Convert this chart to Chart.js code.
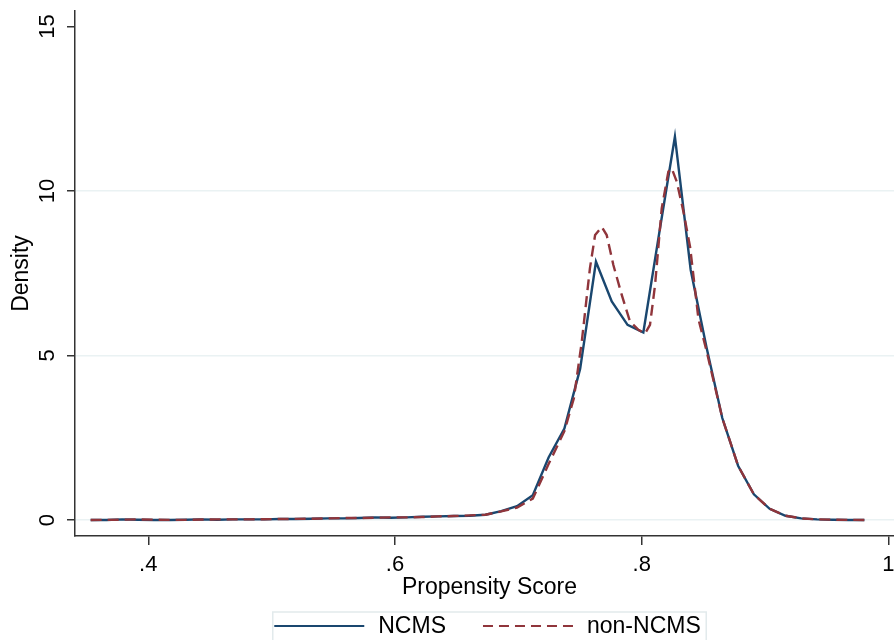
<!DOCTYPE html>
<html>
<head>
<meta charset="utf-8">
<script src="https://cdn.jsdelivr.net/npm/chart.js@4/dist/chart.umd.min.js"></script>
<style>
  html, body { margin: 0; padding: 0; background: #fff; overflow: hidden; }
  #wrap { width: 904px; height: 640px; }
</style>
</head>
<body>
<div id="wrap"><canvas id="chart" width="904" height="640"></canvas></div>
<script>
// kdensity estimates
const ncmsX = [
  0.3533, 0.3661, 0.3789, 0.3917, 0.4045, 0.4173, 0.4301, 0.4429, 0.4557, 0.4685,
  0.4813, 0.4941, 0.5069, 0.5197, 0.5325, 0.5453, 0.5581, 0.5709, 0.5837, 0.5965,
  0.6093, 0.6221, 0.6349, 0.6477, 0.6605, 0.6733, 0.6861, 0.6989, 0.7117, 0.7245,
  0.7373, 0.7501, 0.7629, 0.7757, 0.7885, 0.8013, 0.8141, 0.8269, 0.8397, 0.8525,
  0.8653, 0.8781, 0.8909, 0.9037, 0.9165, 0.9293, 0.9421, 0.9549, 0.9677, 0.9805
];
const ncmsY = [
  0.00, 0.00, 0.02, 0.01, 0.00, 0.00, 0.01, 0.02, 0.01, 0.02,
  0.02, 0.02, 0.03, 0.03, 0.04, 0.05, 0.05, 0.06, 0.08, 0.07,
  0.08, 0.10, 0.11, 0.12, 0.13, 0.16, 0.27, 0.42, 0.75, 1.90,
  2.78, 4.60, 7.85, 6.64, 5.93, 5.70, 8.70, 11.65, 7.60, 5.25,
  3.10, 1.65, 0.78, 0.34, 0.13, 0.05, 0.02, 0.01, 0.00, 0.00
];

const nonX = [
  0.3533, 0.3661, 0.3789, 0.3917, 0.4045, 0.4173, 0.4301, 0.4429, 0.4557, 0.4685,
  0.4813, 0.4941, 0.5069, 0.5197, 0.5325, 0.5453, 0.5581, 0.5709, 0.5837, 0.5965,
  0.6093, 0.6221, 0.6349, 0.6477, 0.6605, 0.6733, 0.6861, 0.6989, 0.7117, 0.7245,
  0.7373, 0.7450, 0.7514, 0.7580, 0.7622, 0.7676, 0.7716, 0.7770, 0.7838, 0.7905,
  0.7973, 0.8027, 0.8067, 0.8108, 0.8162, 0.8216, 0.8243, 0.8284, 0.8338, 0.8392,
  0.8460, 0.8525, 0.8653, 0.8781, 0.8909, 0.9037, 0.9165, 0.9293, 0.9421, 0.9549,
  0.9677, 0.9805
];
const nonY = [
  0.00, 0.005, 0.01, 0.02, 0.01, 0.005, 0.005, 0.015, 0.02, 0.02,
  0.02, 0.025, 0.03, 0.035, 0.04, 0.05, 0.06, 0.06, 0.07, 0.08,
  0.08, 0.09, 0.11, 0.12, 0.14, 0.16, 0.26, 0.38, 0.65, 1.70,
  2.70, 3.70, 5.42, 7.65, 8.66, 8.91, 8.66, 7.75, 6.84, 6.03,
  5.78, 5.67, 5.93, 7.14, 9.47, 10.59, 10.69, 10.28, 9.37, 8.30,
  6.10, 5.15, 3.10, 1.65, 0.78, 0.34, 0.13, 0.05, 0.02, 0.01,
  0.005, 0.002
];

const seriesNames = ["NCMS", "non-NCMS"];
const xTicks = [0.4, 0.6, 0.8, 1];
const xTickLabels = [".4", ".6", ".8", "1"];
const yTicks = [0, 5, 10, 15];
const yTickLabels = ["0", "5", "10", "15"];

const NAVY = "#1a476f";
const MAROON = "#90353b";
const GRID = "#eaf2f3";
const AXIS = "#333333";
const FONT = "'Liberation Sans', Arial, sans-serif";

// y labels are drawn upright-rotated like Stata, plus the boxed legend
const extras = {
  id: "extras",
  afterDraw(chart) {
    const { ctx, chartArea } = chart;
    const ys = chart.scales.y;
    ctx.save();
    ctx.fillStyle = "#000";
    ctx.font = "22px " + FONT;
    ctx.textAlign = "center";
    ctx.textBaseline = "alphabetic";
    yTicks.forEach((v, i) => {
      ctx.save();
      ctx.translate(54, ys.getPixelForValue(v));
      ctx.rotate(-Math.PI / 2);
      ctx.fillText(yTickLabels[i], 0, 0);
      ctx.restore();
    });

    // legend
    ctx.font = "23px " + FONT;
    const w0 = ctx.measureText(seriesNames[0]).width;
    const w1 = ctx.measureText(seriesNames[1]).width;
    const sample = 90, gapText = 14, gapItem = 37, pad = 1.5;
    const total = pad + sample + gapText + w0 + gapItem + sample + gapText + w1 + pad + 4;
    const cx = (chartArea.left + chartArea.right) / 2;
    let x = cx - total / 2;
    const top = 612, mid = 626;
    ctx.fillStyle = "#fff";
    ctx.fillRect(x, top, total, 40);
    ctx.strokeStyle = "#e2eaec";
    ctx.lineWidth = 1.5;
    ctx.strokeRect(x, top, total, 40);
    x += pad;

    ctx.lineWidth = 2.2;
    ctx.strokeStyle = NAVY;
    ctx.setLineDash([]);
    ctx.beginPath(); ctx.moveTo(x, mid); ctx.lineTo(x + sample, mid); ctx.stroke();
    x += sample + gapText;
    ctx.fillStyle = "#000";
    ctx.textAlign = "left";
    ctx.textBaseline = "middle";
    ctx.fillText(seriesNames[0], x, mid + 1);
    x += w0 + gapItem;

    ctx.strokeStyle = MAROON;
    ctx.setLineDash([10, 6]);
    ctx.beginPath(); ctx.moveTo(x, mid); ctx.lineTo(x + sample, mid); ctx.stroke();
    ctx.setLineDash([]);
    x += sample + gapText;
    ctx.fillText(seriesNames[1], x, mid + 1);
    ctx.restore();
  }
};

const ctx = document.getElementById("chart");
new Chart(ctx, {
  type: "line",
  data: {
    datasets: [
      {
        label: seriesNames[0],
        data: ncmsX.map((x, i) => ({ x: x, y: ncmsY[i] })),
        borderColor: NAVY,
        borderWidth: 2.4,
        pointRadius: 0,
        tension: 0,
        fill: false,
        order: 2
      },
      {
        label: seriesNames[1],
        data: nonX.map((x, i) => ({ x: x, y: nonY[i] })),
        borderColor: MAROON,
        borderWidth: 2.4,
        borderDash: [11, 6],
        pointRadius: 0,
        tension: 0,
        fill: false,
        order: 1
      }
    ]
  },
  options: {
    responsive: false,
    animation: false,
    devicePixelRatio: 1,
    layout: { padding: { top: 11, left: 0, right: 0, bottom: 36 } },
    plugins: {
      legend: { display: false },
      tooltip: { enabled: false }
    },
    scales: {
      x: {
        type: "linear",
        min: 0.3406,
        max: 1.0126,
        afterBuildTicks: (scale) => { scale.ticks = xTicks.map((v) => ({ value: v })); },
        afterFit: (scale) => { scale.height = 68; },
        ticks: {
          callback: (v, i) => xTickLabels[i],
          color: "#000",
          font: { family: FONT, size: 22 },
          padding: 7,
          maxRotation: 0,
          autoSkip: false
        },
        grid: {
          drawOnChartArea: false,
          drawTicks: true,
          tickLength: 9,
          tickColor: AXIS,
          lineWidth: 1.5
        },
        border: { color: AXIS, width: 1.5 },
        title: {
          display: true,
          text: "Propensity Score",
          color: "#000",
          font: { family: FONT, size: 23 },
          padding: { top: 0, bottom: 3 }
        }
      },
      y: {
        type: "linear",
        min: -0.486,
        max: 15.47,
        afterBuildTicks: (scale) => { scale.ticks = yTicks.map((v) => ({ value: v })); },
        afterFit: (scale) => { scale.width = 75; },
        ticks: { display: false },
        grid: {
          color: (c) => (c.tick && c.tick.value === 15 ? "rgba(0,0,0,0)" : GRID),
          lineWidth: 1.5,
          drawTicks: true,
          tickLength: 8,
          tickColor: AXIS
        },
        border: { color: AXIS, width: 1.5 },
        title: {
          display: true,
          text: "Density",
          color: "#000",
          font: { family: FONT, size: 23 },
          padding: { top: 8, bottom: 0 }
        }
      }
    }
  },
  plugins: [extras]
});
</script>
</body>
</html>
